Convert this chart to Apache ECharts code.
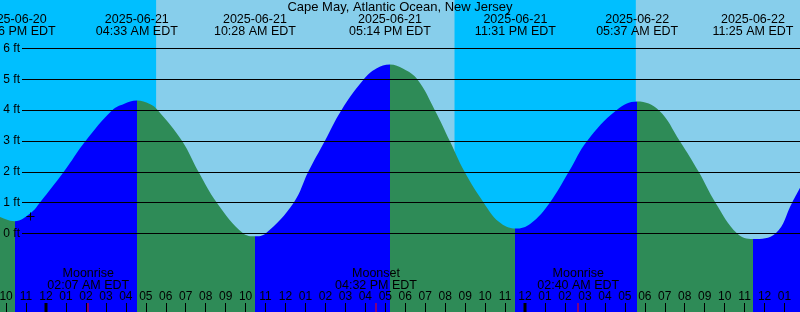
<!DOCTYPE html>
<html><head><meta charset="utf-8">
<script src="https://cdn.jsdelivr.net/npm/echarts@6/dist/echarts.min.js"></script>
<style>html,body{margin:0;padding:0;background:#87CEEB}#c{width:800px;height:312px}</style>
</head><body><div id="c"></div>
<script>
// ---------- data ----------
const chartTitle = 'Cape May, Atlantic Ocean, New Jersey';
const tideDates = ['2025-06-20','2025-06-21','2025-06-21','2025-06-21','2025-06-21','2025-06-22','2025-06-22'];
const tideClock = ['10:26 PM','04:33 AM','10:28 AM','05:14 PM','11:31 PM','05:37 AM','11:25 AM'];
const tideKinds = ['low','high','low','high','low','high','low'];
const moonNames = ['Moonrise','Moonset','Moonrise'];
const moonDates = ['2025-06-21','2025-06-21','2025-06-22'];
const moonClock = ['02:07 AM','04:32 PM','02:40 AM'];
const sunsetDates = ['2025-06-20','2025-06-21'];
const sunsetClock = ['08:28 PM','08:28 PM'];
const sunriseDates = ['2025-06-21','2025-06-22'];
const sunriseClock = ['05:31 AM','05:33 AM'];
const midnightDates = ['2025-06-21','2025-06-22'];
const nowDate = '2025-06-20', nowClock = '11:13 PM', nowLevel = 0.57;
// tide curve samples: hours from 2025-06-21 00:00 EDT, and height in feet
const curveHours = [-2.31,-1.57,-0.78,-0.31,0.89,1.98,3.32,3.90,4.55,5.20,5.60,6.82,7.64,8.56,9.89,10.47,11.00,12.41,13.14,13.97,14.80,15.92,16.55,17.23,17.90,18.60,19.48,20.23,20.97,21.93,22.69,23.52,24.27,25.24,26.19,27.11,28.58,29.62,30.70,31.75,32.70,33.54,34.63,35.42,36.55,37.38,37.80];
const curveFeet  = [0.54,0.40,0.66,1.0,2.0,3.0,4.0,4.20,4.31,4.20,4.0,3.0,2.0,1.0,0.0,-0.09,0.0,1.0,2.0,3.0,4.0,5.0,5.35,5.48,5.34,5.0,4.0,3.0,2.0,1.0,0.38,0.16,0.32,1.0,2.0,3.0,4.0,4.28,4.0,3.0,2.0,1.0,0.0,-0.18,0.0,1.0,1.51];
const hourTicks = [-2,-1,0,1,2,3,4,5,6,7,8,9,10,11,12,13,14,15,16,17,18,19,20,21,22,23,24,25,26,27,28,29,30,31,32,33,34,35,36,37];
const heightMin = 0, heightMax = 6, heightStep = 1;

// ---------- helpers ----------
const FONT = '"Liberation Sans", Arial, sans-serif';
const BLUE = '#0000FF', GREEN = '#2E8B57', NIGHT = '#00BFFF', DAY = '#87CEEB';
function toHours(date, clock) {
  const day = parseInt(date.slice(8), 10) - 21;
  const m = clock.match(/(\d+):(\d+)\s*(AM|PM)/);
  const h = (parseInt(m[1], 10) % 12) + (m[3] === 'PM' ? 12 : 0);
  return day * 24 + h + parseInt(m[2], 10) / 60;
}
const X0 = -2.3046, X1 = 37.7756;   // visible time window (hours)
const Y0 = -2.546, Y1 = 7.573;      // visible height window (ft)

const tideHours = tideDates.map((d, i) => toHours(d, tideClock[i]));
const moonHours = moonDates.map((d, i) => toHours(d, moonClock[i]));
const nights = sunsetDates.map((d, i) => [toHours(d, sunsetClock[i]), toHours(sunriseDates[i], sunriseClock[i])]);
const midnights = midnightDates.map(d => toHours(d, '12:00 AM'));
const nowHour = toHours(nowDate, nowClock);

const pieces = [{ lt: tideHours[0], color: tideKinds[0] === 'low' ? GREEN : BLUE }];
for (let i = 0; i < tideHours.length - 1; i++) {
  pieces.push({ gte: tideHours[i], lt: tideHours[i + 1], color: tideKinds[i] === 'low' ? BLUE : GREEN });
}
const lastI = tideHours.length - 1;
pieces.push({ gte: tideHours[lastI], color: tideKinds[lastI] === 'low' ? BLUE : GREEN });

function hourLabel(v) {
  const h = ((Math.round(v) % 24) + 24) % 24;
  const h12 = h % 12 || 12;
  return String(h12).padStart(2, '0');
}
function txt(text, x, y, size) {
  return { type: 'text', style: { text, x, y, fill: '#000', fontSize: size, fontFamily: FONT, align: 'center', verticalAlign: 'middle' } };
}

const chart = echarts.init(document.getElementById('c'), null, { renderer: 'canvas' });
chart.setOption({
  backgroundColor: DAY,
  animation: false,
  title: { text: chartTitle, left: 'center', top: 1, padding: 0,
    textStyle: { fontFamily: FONT, fontSize: 13, fontWeight: 'normal', color: '#000' } },
  grid: [
    { left: 0, right: 0, top: 0, bottom: 0, containLabel: false, outerBoundsMode: 'none' },
    { left: 22, right: 0, top: 48.5, bottom: 78.5, containLabel: false, outerBoundsMode: 'none' }
  ],
  xAxis: [
    { type: 'value', gridIndex: 0, position: 'bottom', min: X0, max: X1, z: 5,
      axisLine: { show: false, onZero: false }, splitLine: { show: false },
      axisTick: { show: true, inside: true, length: 9, customValues: hourTicks, lineStyle: { color: '#000', width: 1 } },
      axisLabel: { show: true, inside: true, margin: 9, customValues: hourTicks, formatter: hourLabel,
        fontFamily: FONT, fontSize: 12, color: '#000' } },
    { type: 'value', gridIndex: 1, min: 0, max: 1, show: false }
  ],
  yAxis: [
    { type: 'value', gridIndex: 0, min: Y0, max: Y1, show: false },
    { type: 'value', gridIndex: 1, min: heightMin, max: heightMax, interval: heightStep, z: 5,
      axisLine: { show: false }, axisTick: { show: false },
      splitLine: { show: true, lineStyle: { color: '#000', width: 1 } },
      axisLabel: { formatter: '{value} ft', margin: 2, fontFamily: FONT, fontSize: 12, color: '#000' } }
  ],
  visualMap: { type: 'piecewise', show: false, dimension: 0, seriesIndex: 1, pieces },
  series: [
    { type: 'custom', name: 'night', xAxisIndex: 0, yAxisIndex: 0, z: 1, clip: true, silent: true,
      data: nights,
      renderItem: (params, api) => {
        const p1 = api.coord([api.value(0), Y1]);
        const p2 = api.coord([api.value(1), Y0]);
        return { type: 'rect', shape: { x: p1[0], y: p1[1], width: p2[0] - p1[0], height: p2[1] - p1[1] }, style: { fill: NIGHT } };
      } },
    { type: 'line', name: 'tide', xAxisIndex: 0, yAxisIndex: 0, z: 2, smooth: 0.4, showSymbol: false, silent: true,
      data: curveHours.map((h, i) => [h, curveFeet[i]]),
      lineStyle: { opacity: 0, width: 0 },
      areaStyle: { opacity: 1, origin: 'start' } },
    { type: 'custom', name: 'tideLabels', xAxisIndex: 0, yAxisIndex: 0, z: 10, silent: true,
      data: tideHours.map((h, i) => [h, i]),
      renderItem: (params, api) => {
        const i = api.value(1);
        const x = api.coord([api.value(0), 0])[0];
        return { type: 'group', children: [
          txt(tideDates[i], x, 19.5, 12.5),
          txt(tideClock[i] + ' EDT', x, 31.3, 12.5)
        ] };
      } },
    { type: 'custom', name: 'moon', xAxisIndex: 0, yAxisIndex: 0, z: 10, silent: true,
      data: moonHours.map((h, i) => [h, i]),
      renderItem: (params, api) => {
        const i = api.value(1);
        const p = api.coord([api.value(0), Y0]);
        const x = p[0];
        return { type: 'group', children: [
          txt(moonNames[i], x, 273.5, 12.5),
          txt(moonClock[i] + ' EDT', x, 285.5, 12.5),
          { type: 'rect', shape: { x: Math.round(x) - 0.5, y: p[1] - 9, width: 1, height: 9 }, style: { fill: '#FF0000' } }
        ] };
      } },
    { type: 'custom', name: 'midnight', xAxisIndex: 0, yAxisIndex: 0, z: 10, silent: true,
      data: midnights.map(h => [h, 0]),
      renderItem: (params, api) => {
        const p = api.coord([api.value(0), Y0]);
        return { type: 'rect', shape: { x: Math.round(p[0]) - 1.5, y: p[1] - 9, width: 3, height: 9 }, style: { fill: '#000' } };
      } },
    { type: 'custom', name: 'now', xAxisIndex: 0, yAxisIndex: 0, z: 10, silent: true,
      data: [[nowHour, nowLevel]],
      renderItem: (params, api) => {
        const p = api.coord([api.value(0), api.value(1)]);
        const x = Math.round(p[0]) + 0.5, y = Math.round(p[1]) + 0.5;
        return { type: 'group', children: [
          { type: 'line', shape: { x1: x - 4, y1: y, x2: x + 4, y2: y }, style: { stroke: '#000', lineWidth: 1 } },
          { type: 'line', shape: { x1: x, y1: y - 4, x2: x, y2: y + 4 }, style: { stroke: '#000', lineWidth: 1 } }
        ] };
      } }
  ]
});
</script>
</body></html>
